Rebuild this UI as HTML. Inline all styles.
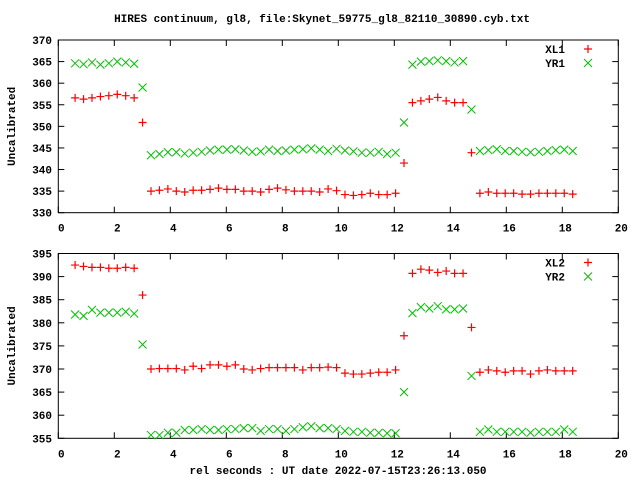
<!DOCTYPE html>
<html><head><meta charset="utf-8"><style>
body{margin:0;background:#fff}
svg text{font-family:"Liberation Mono",monospace;font-weight:bold;font-size:11px;fill:#000}
</style></head><body>
<svg id="chart" width="640" height="480" xmlns="http://www.w3.org/2000/svg"></svg>
<script>
const xStart = 0.6, xStep = 0.3012;
const xl1 = [356.6,356.3,356.6,356.9,357.1,357.4,357.1,356.6,350.9,
 335,335.2,335.5,335,334.8,335.2,335.2,335.4,335.7,335.4,335.4,335,335,334.8,335.4,335.7,335.3,335,335,335,334.8,335.5,335.1,334.2,334,334.2,334.5,334.2,334.2,334.5,
 341.5,355.5,355.9,356.3,356.7,355.9,355.5,355.5,343.9,
 334.5,334.8,334.5,334.5,334.5,334.3,334.3,334.5,334.5,334.5,334.5,334.3];
const yr1 = [364.6,364.4,364.8,364.3,364.6,365,364.8,364.5,359,
 343.3,343.6,344,344,343.7,343.9,344.1,344.4,344.6,344.6,344.7,344.4,344.1,344.2,344.6,344.3,344.4,344.6,344.7,344.9,344.6,344.3,344.8,344.4,344.2,343.9,343.9,344.1,343.6,343.9,
 350.9,364.3,365,365.1,365.3,365.1,364.8,365.1,353.9,
 344.3,344.5,344.7,344.3,344.3,344.1,344.0,344.1,344.3,344.5,344.6,344.3];
const xl2 = [392.5,392.2,392,392,391.8,391.8,392,391.8,386,
 370,370.1,370.1,370.1,369.8,370.6,370.1,370.9,370.9,370.6,370.9,370,369.8,370.1,370.3,370.3,370.3,370.3,369.8,370.3,370.3,370.4,370.3,369.1,368.9,368.9,369.1,369.3,369.3,369.8,
 377.2,390.7,391.6,391.4,390.9,391.2,390.7,390.7,379.0,
 369.3,369.8,369.6,369.3,369.6,369.6,368.9,369.6,369.8,369.6,369.6,369.6];
const yr2 = [381.8,381.5,382.8,382.2,382.2,382.2,382.4,382.0,375.3,
 355.7,355.7,356.2,356.2,356.8,356.8,357,356.8,356.8,357,357,357.2,357.2,356.6,357,357,356.6,357,357.4,357.6,357.2,357.2,357,356.6,356.4,356.4,356.2,356.2,356.1,356.1,
 365.0,382.1,383.4,383.1,383.6,382.9,382.9,383.1,368.5,
 356.4,356.9,356.4,356.4,356.4,356.4,356.2,356.4,356.4,356.4,356.9,356.4];
const xTicks = [0,2,4,6,8,10,12,14,16,18,20];
const yTicks1 = [330,335,340,345,350,355,360,365,370];
const yTicks2 = [355,360,365,370,375,380,385,390,395];

const NS = "http://www.w3.org/2000/svg";
const svg = document.getElementById('chart');
function el(tag, attrs, parent){const e=document.createElementNS(NS,tag);for(const k in attrs)e.setAttribute(k,attrs[k]);(parent||svg).appendChild(e);return e;}
const L=58.3, R=618.3;
const xs = v => L + (v-0)/(20-0)*(R-L);

function panel(name, top, bottom, ymin, ymax, yTicks, s1, s2, n1, n2){
  const g = el('g',{});
  
  
  const ys = v => bottom - (v-ymin)/(ymax-ymin)*(bottom-top);
  const frame = el('rect',{x:L,y:top,width:R-L,height:bottom-top,fill:'none',stroke:'#000','stroke-width':1},g);
  
  
  xTicks.forEach(t=>{
    const x=xs(t);
    el('line',{x1:x,y1:bottom,x2:x,y2:bottom-6,stroke:'#000'},g);
    el('line',{x1:x,y1:top,x2:x,y2:top+6,stroke:'#000'},g);
    const tx=el('text',{x:x+3,y:bottom+19,'text-anchor':'middle'},g);
    tx.textContent=t;
    
    
  });
  yTicks.forEach(t=>{
    const y=ys(t);
    el('line',{x1:L,y1:y,x2:L+6,y2:y,stroke:'#000'},g);
    el('line',{x1:R,y1:y,x2:R-6,y2:y,stroke:'#000'},g);
    const tx=el('text',{x:52,y:y+4,'text-anchor':'end'},g);
    tx.textContent=t;
    
    
  });
  const yl=el('text',{x:15,y:(top+bottom)/2,'text-anchor':'middle',transform:`rotate(-90 15 ${(top+bottom)/2})`},g);
  yl.textContent='Uncalibrated';
  
  
  function plus(x,y,gg){el('path',{d:`M${x-4} ${y}H${x+4}M${x} ${y-4}V${y+4}`,stroke:'#ff0000','stroke-width':1.2,fill:'none'},gg);}
  function cross(x,y,gg){el('path',{d:`M${x-4} ${y-4}L${x+4} ${y+4}M${x-4} ${y+4}L${x+4} ${y-4}`,stroke:'#00c000','stroke-width':1,fill:'none'},gg);}
  const g1=el('g',{},g);  
  const g2=el('g',{},g);  
  s1.forEach((v,i)=>plus(xs(xStart+i*xStep),ys(v),g1));
  s2.forEach((v,i)=>cross(xs(xStart+i*xStep),ys(v),g2));
  const lg=el('g',{},g);  
  const t1=el('text',{x:565,y:top+13,'text-anchor':'end'},lg); t1.textContent=n1;
   
  const t2=el('text',{x:565,y:top+27,'text-anchor':'end'},lg); t2.textContent=n2;
   
  plus(588,top+9,lg); cross(588,top+23,lg);
}
const title=el('text',{x:322,y:22,'text-anchor':'middle'});
title.textContent='HIRES continuum, gl8, file:Skynet_59775_gl8_82110_30890.cyb.txt';


panel('top-panel',40,212.7,330,370,yTicks1,xl1,yr1,'XL1','YR1');
panel('bottom-panel',253.5,438.3,355,395,yTicks2,xl2,yr2,'XL2','YR2');
const xl=el('text',{x:338,y:474,'text-anchor':'middle'});
xl.textContent='rel seconds : UT date 2022-07-15T23:26:13.050';


</script>
</body></html>
